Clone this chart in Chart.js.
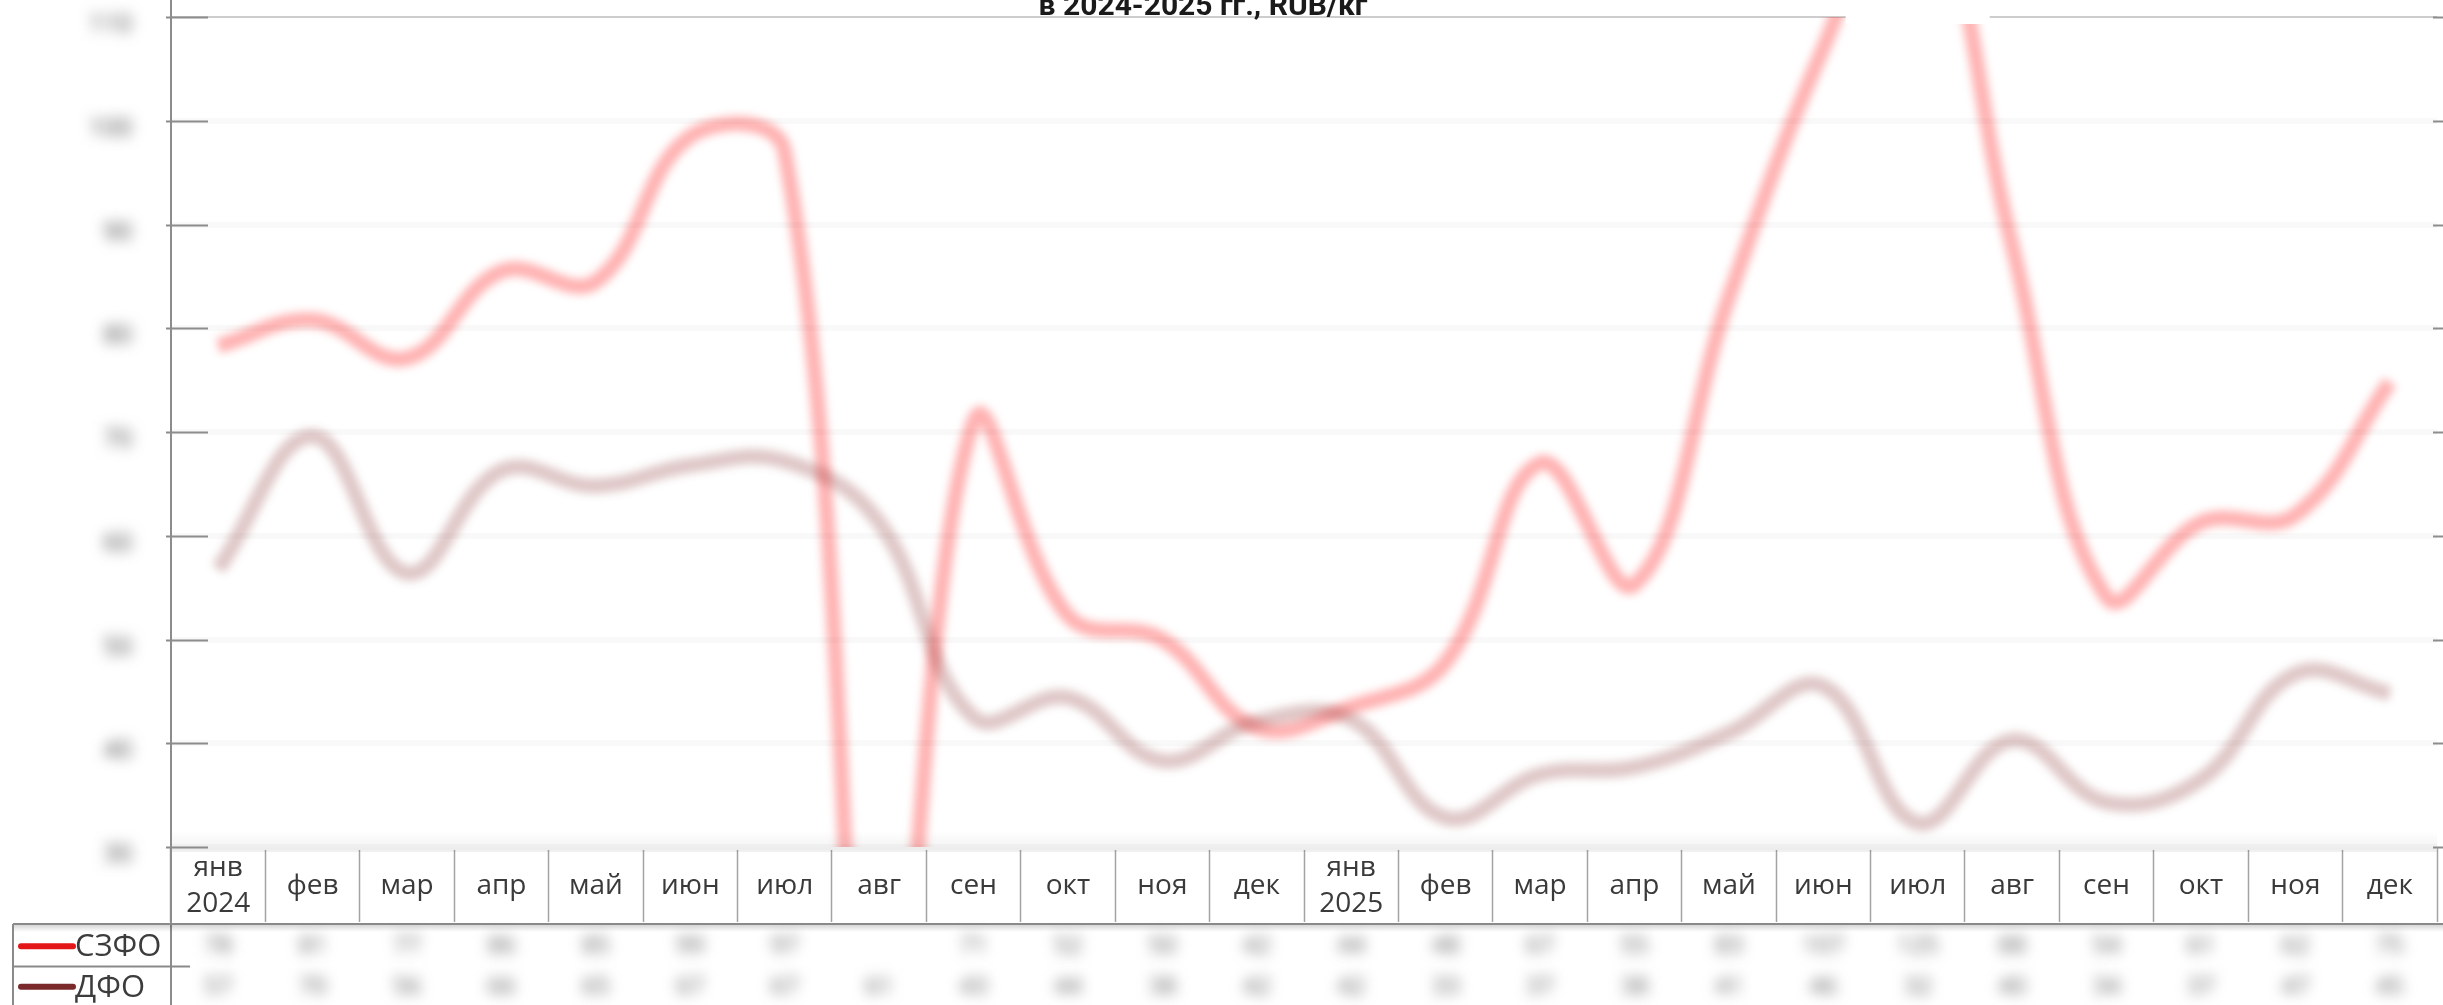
<!DOCTYPE html>
<html>
<head>
<meta charset="utf-8">
<script src="https://cdn.jsdelivr.net/npm/chart.js@4.4.1/dist/chart.umd.min.js"></script>
<style>
  html, body { margin: 0; padding: 0; background: #fff; }
  #wrap { width: 2443px; height: 1005px; position: relative; }
</style>
</head>
<body>
<div id="wrap"><canvas id="chart"></canvas></div>
<script>
// months, first of each year carries the year on a second line
const categories = [
  ["янв", "2024"], "фев", "мар", "апр", "май", "июн", "июл", "авг", "сен", "окт", "ноя", "дек",
  ["янв", "2025"], "фев", "мар", "апр", "май", "июн", "июл", "авг", "сен", "окт", "ноя", "дек"
];
const seriesNames = ["СЗФО", "ДФО"];
const szfo = [78.3, 80.8, 77.1, 85.5, 84.5, 98.5, 97, 0, 71, 52.3, 50, 41.5,
              43.5, 47.8, 67, 55.3, 83, 107, 125, 88, 54.1, 61.3, 62, 74.8];
const dfo  = [56.8, 69.6, 56.4, 66.3, 64.8, 66.8, 67.2, 61.3, 42.5, 44.4, 38.3, 42.1,
              42.3, 32.8, 37, 37.7, 41, 45.5, 32.3, 40.3, 34.3, 36.5, 46.7, 44.8];
const yMin = 30, yMax = 110, yStep = 10;
const titleText = "в 2024-2025 гг., RUB/кг";

const lineColors = ["rgba(255,0,0,0.30)", "rgba(128,30,30,0.25)"];
const markerColors = ["#e31717", "#7a2a2a"];
const FONT = "'Open Sans', 'Noto Sans', sans-serif";

const softLines = {
  id: "softLines",
  beforeDatasetsDraw(chart) {
    chart.ctx.save();
    chart.ctx.filter = "blur(4px)";
  },
  afterDatasetsDraw(chart) {
    const ctx = chart.ctx;
    ctx.restore();
    // white patch where the series runs off the top
    const xs = chart.scales.x;
    ctx.save();
    ctx.fillStyle = "#fff";
    szfo.forEach((v, i) => {
      if (v > yMax) {
        const px = xs.getPixelForValue(i);
        ctx.fillRect(px - 72, 0, 144, chart.chartArea.top + 7);
      }
    });
    ctx.restore();
  }
};

const extras = {
  id: "extras",
  afterDraw(chart) {
    const ctx = chart.ctx;
    const area = chart.chartArea;
    const xs = chart.scales.x, ys = chart.scales.y;
    const H = chart.height, W = chart.width;
    ctx.save();

    // shade at the bottom of the plot
    let g = ctx.createLinearGradient(0, area.bottom - 16, 0, area.bottom + 5);
    g.addColorStop(0, "rgba(0,0,0,0)");
    g.addColorStop(1, "rgba(0,0,0,0.06)");
    ctx.fillStyle = g;
    ctx.fillRect(area.left, area.bottom - 16, area.right - area.left, 21);

    // y axis line through the whole picture
    ctx.strokeStyle = "#8c8c8c";
    ctx.lineWidth = 2;
    ctx.beginPath();
    ctx.moveTo(area.left, 0);
    ctx.lineTo(area.left, H);
    ctx.stroke();

    // inner tick marks
    ys.ticks.forEach(t => {
      const py = Math.round(ys.getPixelForValue(t.value)) + 0.5;
      ctx.beginPath();
      ctx.moveTo(area.left - 5, py);
      ctx.lineTo(area.left + 37, py);
      ctx.stroke();
      ctx.beginPath();
      ctx.moveTo(area.right - 4, py);
      ctx.lineTo(W, py);
      ctx.stroke();
    });

    // blurred y labels
    ctx.filter = "blur(7px)";
    ctx.fillStyle = "#4a4a4a";
    ctx.font = "25px " + FONT;
    ctx.textAlign = "right";
    ctx.textBaseline = "middle";
    ys.ticks.forEach(t => {
      ctx.fillText(String(t.value), 132, ys.getPixelForValue(t.value) + 8);
    });
    ctx.filter = "none";

    // header bottom line with shadow
    const hb = xs.bottom;
    g = ctx.createLinearGradient(0, hb, 0, hb + 8);
    g.addColorStop(0, "rgba(0,0,0,0.18)");
    g.addColorStop(1, "rgba(0,0,0,0)");
    ctx.fillStyle = g;
    ctx.fillRect(13, hb, W - 13, 8);
    ctx.strokeStyle = "#8a8a8a";
    ctx.lineWidth = 2;
    ctx.beginPath();
    ctx.moveTo(13, hb);
    ctx.lineTo(W, hb);
    ctx.stroke();

    // legend column
    const rowMid = (hb + H) / 2;
    ctx.beginPath();
    ctx.moveTo(13, hb);
    ctx.lineTo(13, H);
    ctx.moveTo(13, rowMid + 2);
    ctx.lineTo(area.left + 19, rowMid + 2);
    ctx.stroke();

    const rowsY = [(hb + rowMid) / 2 + 2, (rowMid + H) / 2 + 2];
    const series = [szfo, dfo];
    seriesNames.forEach((name, k) => {
      ctx.strokeStyle = markerColors[k];
      ctx.lineWidth = 6;
      ctx.lineCap = "round";
      ctx.beginPath();
      ctx.moveTo(21, rowsY[k]);
      ctx.lineTo(73, rowsY[k]);
      ctx.stroke();
      ctx.fillStyle = "#3c3c3c";
      ctx.font = "31px " + FONT;
      ctx.textAlign = "left";
      ctx.textBaseline = "middle";
      ctx.fillText(name, 75, rowsY[k] + 1);
    });

    // blurred values
    ctx.filter = "blur(7px)";
    ctx.fillStyle = "#5e5e5e";
    ctx.font = "24px " + FONT;
    ctx.textAlign = "center";
    series.forEach((vals, k) => {
      vals.forEach((v, i) => {
        if (v > 0) ctx.fillText(String(Math.round(v)), xs.getPixelForValue(i), rowsY[k]);
      });
    });
    ctx.filter = "none";

    // title, cut at the top of the picture
    ctx.fillStyle = "#1a1a1a";
    ctx.font = "bold 30px Roboto, sans-serif";
    ctx.textAlign = "center";
    ctx.textBaseline = "alphabetic";
    ctx.fillText(titleText, 1203, 15);

    ctx.restore();
  }
};

new Chart(document.getElementById("chart"), {
  type: "line",
  data: {
    labels: categories,
    datasets: [
      { label: seriesNames[1], data: dfo, borderColor: lineColors[1], borderWidth: 15,
        pointRadius: 0, tension: 0.4, clip: 0 },
      { label: seriesNames[0], data: szfo, borderColor: lineColors[0], borderWidth: 15,
        pointRadius: 0, tension: 0.4, clip: 0 }
    ]
  },
  options: {
    responsive: true,
    maintainAspectRatio: false,
    devicePixelRatio: 1,
    animation: false,
    layout: { padding: { left: 0, top: 17, right: 6, bottom: 81 } },
    plugins: { legend: { display: false }, tooltip: { enabled: false }, title: { display: false } },
    scales: {
      x: {
        offset: true,
        grid: { offset: true, drawOnChartArea: false, drawTicks: true, tickLength: 75,
                tickColor: "#a3a3a3", tickWidth: 1.5 },
        border: { display: false },
        ticks: { color: "#3a3a3a", font: { family: FONT, size: 28, lineHeight: 1.3 },
                 padding: -54, crossAlign: "center", maxRotation: 0, autoSkip: false },
        afterFit(scale) { scale.height = 77; }
      },
      y: {
        min: yMin, max: yMax,
        ticks: { stepSize: yStep, display: false },
        grid: {
          drawTicks: false,
          color: ctx => ctx.tick && ctx.tick.value === yMax ? "#cdcdcd" : "#f9f9f9",
          lineWidth: ctx => ctx.tick && ctx.tick.value === yMax ? 2 : 6
        },
        border: { display: false },
        afterFit(scale) { scale.width = 171; }
      }
    }
  },
  plugins: [softLines, extras]
});
</script>
</body>
</html>
